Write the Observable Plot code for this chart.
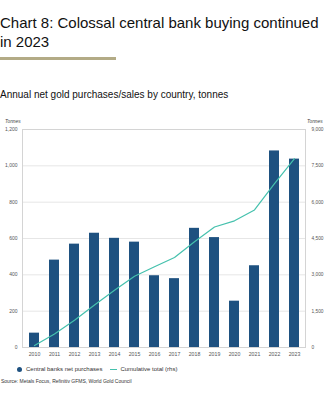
<!DOCTYPE html>
<html><head><meta charset="utf-8">
<script src="https://cdn.jsdelivr.net/npm/d3@7"></script>
<script src="https://cdn.jsdelivr.net/npm/@observablehq/plot@0.6"></script>
<style>
html,body{margin:0;padding:0;background:#fff;width:324px;height:400px;overflow:hidden;font-family:"Liberation Sans",Arial,sans-serif;}
#wrap{position:relative;width:324px;height:400px;overflow:hidden;}
.t{position:absolute;white-space:nowrap;color:#111;}
#chart{position:absolute;left:0;top:110px;}
.leg{position:absolute;top:365px;left:17px;font-size:6px;color:#333;display:flex;align-items:center;white-space:nowrap;line-height:8px;}
</style></head><body><div id="wrap">
<div class="t" style="left:0px;top:13px;font-size:15px;line-height:19px;">Chart 8: Colossal central bank buying continued<br>in 2023</div>
<div style="position:absolute;left:0;top:57px;width:116px;height:2.5px;background:#b3ab86"></div>
<div class="t" style="left:0px;top:89px;font-size:10px;">Annual net gold purchases/sales by country, tonnes</div>
<div class="t" style="left:5px;top:119px;font-size:4.8px;font-style:italic;color:#444;">Tonnes</div>
<div class="t" style="left:307px;top:119px;font-size:4.8px;font-style:italic;color:#444;">Tonnes</div>
<div id="chart"></div>
<div class="leg">
  <span style="display:inline-block;width:5px;height:5px;border-radius:50%;background:#1e5180;margin-right:4px;"></span>
  <span>Central banks net purchases</span>
  <span style="display:inline-block;width:7px;height:1px;background:#45c1ad;margin-left:8px;margin-right:3px;"></span>
  <span>Cumulative total (rhs)</span>
</div>
<div class="t" style="left:1px;top:378px;font-size:5px;color:#333;">Source: Metals Focus, Refinitiv GFMS, World Gold Council</div>
</div>
<script>
const years = ["2010","2011","2012","2013","2014","2015","2016","2017","2018","2019","2020","2021","2022","2023"];
const purchases = [79, 481, 569, 629, 601, 580, 395, 379, 656, 605, 255, 450, 1082, 1037];
const cumulative = [79, 560, 1129, 1758, 2359, 2939, 3334, 3713, 4369, 4974, 5229, 5679, 6761, 7798];
const leftTicks = [0, 200, 400, 600, 800, 1000, 1200];
const rightTicks = [0, 1500, 3000, 4500, 6000, 7500, 9000];
const ratio = 9000 / 1200;

const data = years.map((y, i) => ({year: y, value: purchases[i], cum: cumulative[i]}));
const fmt = d3.format(",");

const chart = Plot.plot({
  width: 324,
  height: 252,
  marginTop: 19,
  marginBottom: 15,
  marginLeft: 22,
  marginRight: 19,
  style: {fontFamily: "Liberation Sans, Arial, sans-serif", background: "transparent"},
  x: {domain: years, paddingInner: 0.5, paddingOuter: 0.25},
  y: {domain: [0, 1200]},
  marks: [
    Plot.gridY(leftTicks, {stroke: "#e6e6e6", strokeOpacity: 1}),
    Plot.frame({stroke: "#d4d4d4"}),
    Plot.barY(data, {x: "year", y: "value", fill: "#1e5180"}),
    Plot.line(data, {x: "year", y: d => d.cum / ratio, stroke: "#45c1ad", strokeWidth: 1.2}),
    Plot.axisY(leftTicks, {anchor: "left", tickSize: 0, tickPadding: 5, tickFormat: fmt, fontSize: 5, fill: "#555", label: null}),
    Plot.axisY(leftTicks, {anchor: "right", tickSize: 0, tickPadding: 6, tickFormat: d => fmt(rightTicks[leftTicks.indexOf(d)]), fontSize: 4.8, fill: "#555", label: null}),
    Plot.axisX({tickSize: 0, tickPadding: 5, fontSize: 5.2, fill: "#555", label: null})
  ]
});
document.getElementById("chart").appendChild(chart);
</script>
</body></html>
